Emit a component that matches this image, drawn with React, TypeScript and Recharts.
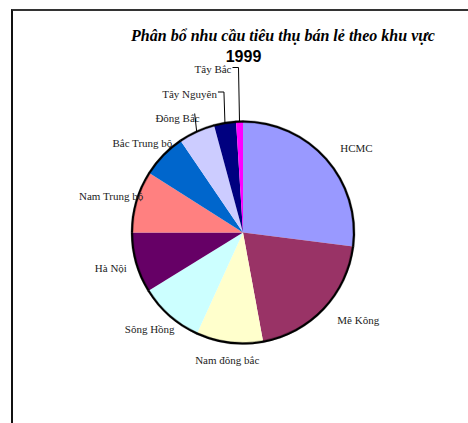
import React from 'react';
import { PieChart, Pie, Cell } from 'recharts';

// share of retail demand by region, 1999 (percent)
const regions = [
  'HCMC',
  'Mê Kông',
  'Nam đông bắc',
  'Sông Hồng',
  'Hà Nội',
  'Nam Trung bộ',
  'Bắc Trung bộ',
  'Đông Bắc',
  'Tây Nguyên',
  'Tây Bắc',
];
const shares = [27.0, 20.1, 9.7, 9.4, 8.8, 9.0, 6.5, 5.3, 3.2, 1.0];
const colors = [
  '#9999FF',
  '#993366',
  '#FFFFCC',
  '#CCFFFF',
  '#660066',
  '#FF8080',
  '#0066CC',
  '#CCCCFF',
  '#000080',
  '#FF00FF',
];

const chartData = regions.map((name, i) => ({ name, value: shares[i] }));

const RAD = Math.PI / 180;
const serif = "'Liberation Serif', 'Times New Roman', Times, serif";
const labelStyle = { fontFamily: serif, fontSize: 11, fill: '#222' };

const renderLabel = (props: any) => {
  const { cx, cy, midAngle, outerRadius, index, name } = props;
  const n = regions.length;
  const cos = Math.cos(-midAngle * RAD);
  const sin = Math.sin(-midAngle * RAD);

  // the three thin slices near the top get stacked labels with leader lines
  if (index >= n - 3) {
    const k = index - (n - 3);
    const ex = cx + outerRadius * cos;
    const ey = cy + outerRadius * sin;
    const ly = cy - outerRadius - 3 - 24.5 * k;
    if (k === 0) {
      return (
        <g>
          <text x={ex + 3} y={ly} dy="0.35em" textAnchor="end" style={labelStyle}>
            {name}
          </text>
          <line x1={ex - 2} y1={ly - 5} x2={ex} y2={ey} stroke="#000" strokeWidth={1} />
        </g>
      );
    }
    const tx = ex - 8;
    return (
      <g>
        <text x={tx} y={ly} dy="0.35em" textAnchor="end" style={labelStyle}>
          {name}
        </text>
        <polyline
          points={`${tx + 1},${ly - 2} ${ex - 1},${ly - 2} ${ex},${ey}`}
          fill="none"
          stroke="#000"
          strokeWidth={1}
        />
      </g>
    );
  }

  if (cos > 0.3) {
    const r = outerRadius + 16;
    return (
      <text x={cx + r * cos + 2} y={cy + r * sin} dy="0.35em" textAnchor="start" style={labelStyle}>
        {name}
      </text>
    );
  }
  const r = outerRadius + 18;
  const shift = cos < -0.3 ? -8 : 0;
  return (
    <text x={cx + r * cos + shift} y={cy + r * sin} dy="0.35em" textAnchor="middle" style={labelStyle}>
      {name}
    </text>
  );
};

const App: React.FC = () => {
  return (
    <div style={{ position: 'absolute', left: 0, top: 0, width: 468, height: 423, background: '#fff', overflow: 'hidden' }}>
      {/* chart frame: only top and left edges visible */}
      <div
        style={{
          position: 'absolute',
          left: 11,
          top: 9,
          width: 470,
          height: 430,
          borderTop: '2px solid #333',
          borderLeft: '2px solid #111',
        }}
      />
      <div
        style={{
          position: 'absolute',
          left: 0,
          width: 566,
          top: 26,
          textAlign: 'center',
          fontFamily: serif,
          fontStyle: 'italic',
          fontWeight: 'bold',
          fontSize: 16,
          color: '#000',
          lineHeight: '20px',
          whiteSpace: 'nowrap',
        }}
      >
        Phân bổ nhu cầu tiêu thụ bán lẻ theo khu vực
      </div>
      <div
        style={{
          position: 'absolute',
          left: 0,
          width: 487,
          top: 47,
          textAlign: 'center',
          fontFamily: "'Liberation Sans', Arial, sans-serif",
          fontWeight: 'bold',
          fontSize: 16,
          color: '#000',
          lineHeight: '20px',
        }}
      >
        1999
      </div>
      <div style={{ position: 'absolute', left: 0, top: 0 }}>
        <PieChart width={468} height={423} margin={{ top: 0, right: 0, bottom: 0, left: 0 }}>
          <Pie
            data={chartData}
            dataKey="value"
            nameKey="name"
            cx={243}
            cy={232.5}
            outerRadius={111}
            startAngle={90}
            endAngle={-270}
            stroke="none"
            label={renderLabel}
            labelLine={false}
            isAnimationActive={false}
          >
            {chartData.map((d, i) => (
              <Cell key={d.name} fill={colors[i]} stroke="none" />
            ))}
          </Pie>
          {/* outer rim */}
          <Pie
            data={chartData}
            dataKey="value"
            cx={243}
            cy={232.5}
            innerRadius={110}
            outerRadius={112}
            startAngle={90}
            endAngle={-270}
            fill="#000"
            stroke="#000"
            strokeWidth={0.3}
            isAnimationActive={false}
          />
        </PieChart>
      </div>
    </div>
  );
};

export default App;
